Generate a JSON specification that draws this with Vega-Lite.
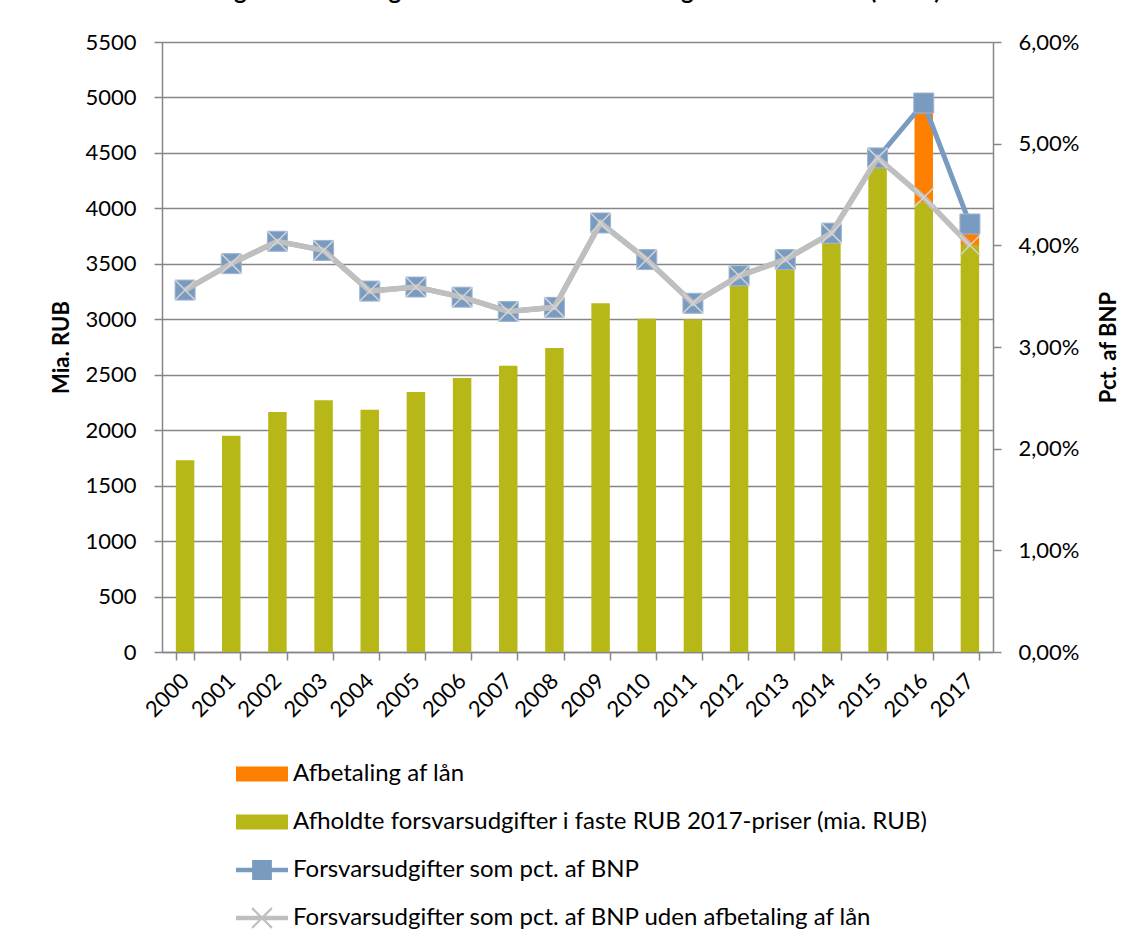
{
  "$schema": "https://vega.github.io/schema/vega-lite/v6.json",
  "autosize": "none",
  "width": 831,
  "height": 610,
  "padding": {"left": 162, "top": 42, "right": 152, "bottom": 293},
  "background": "white",
  "title": {
    "text": "Figur 1: Udviklingen i de russiske forsvarsudgifter 2000-2017 (SIPRI)",
    "font": "Lato",
    "fontSize": 24,
    "fontWeight": "bold",
    "color": "black",
    "anchor": "middle",
    "baseline": "bottom",
    "offset": 14,
    "dy": 11
  },
  "config": {
    "view": {"stroke": null},
    "font": "Lato",
    "legend": {
      "orient": "none",
      "legendX": 74,
      "legendY": 706,
      "padding": 0,
      "title": null,
      "labelFont": "Lato",
      "labelFontSize": 24,
      "labelColor": "black",
      "labelLimit": 1000,
      "labelOffset": 5,
      "symbolSize": 2704,
      "symbolStrokeWidth": 0,
      "symbolOpacity": 1,
      "rowPadding": 10,
      "direction": "vertical"
    }
  },
  "data": {
    "values": [
      {"aar": "2000", "serie": "Afholdte forsvarsudgifter i faste RUB 2017-priser (mia. RUB)", "vaerdi": 1730},
      {"aar": "2001", "serie": "Afholdte forsvarsudgifter i faste RUB 2017-priser (mia. RUB)", "vaerdi": 1950},
      {"aar": "2002", "serie": "Afholdte forsvarsudgifter i faste RUB 2017-priser (mia. RUB)", "vaerdi": 2165},
      {"aar": "2003", "serie": "Afholdte forsvarsudgifter i faste RUB 2017-priser (mia. RUB)", "vaerdi": 2270},
      {"aar": "2004", "serie": "Afholdte forsvarsudgifter i faste RUB 2017-priser (mia. RUB)", "vaerdi": 2185},
      {"aar": "2005", "serie": "Afholdte forsvarsudgifter i faste RUB 2017-priser (mia. RUB)", "vaerdi": 2345},
      {"aar": "2006", "serie": "Afholdte forsvarsudgifter i faste RUB 2017-priser (mia. RUB)", "vaerdi": 2470},
      {"aar": "2007", "serie": "Afholdte forsvarsudgifter i faste RUB 2017-priser (mia. RUB)", "vaerdi": 2580},
      {"aar": "2008", "serie": "Afholdte forsvarsudgifter i faste RUB 2017-priser (mia. RUB)", "vaerdi": 2740},
      {"aar": "2009", "serie": "Afholdte forsvarsudgifter i faste RUB 2017-priser (mia. RUB)", "vaerdi": 3145},
      {"aar": "2010", "serie": "Afholdte forsvarsudgifter i faste RUB 2017-priser (mia. RUB)", "vaerdi": 3005},
      {"aar": "2011", "serie": "Afholdte forsvarsudgifter i faste RUB 2017-priser (mia. RUB)", "vaerdi": 3000},
      {"aar": "2012", "serie": "Afholdte forsvarsudgifter i faste RUB 2017-priser (mia. RUB)", "vaerdi": 3300},
      {"aar": "2013", "serie": "Afholdte forsvarsudgifter i faste RUB 2017-priser (mia. RUB)", "vaerdi": 3450},
      {"aar": "2014", "serie": "Afholdte forsvarsudgifter i faste RUB 2017-priser (mia. RUB)", "vaerdi": 3685},
      {"aar": "2015", "serie": "Afholdte forsvarsudgifter i faste RUB 2017-priser (mia. RUB)", "vaerdi": 4365},
      {"aar": "2016", "serie": "Afholdte forsvarsudgifter i faste RUB 2017-priser (mia. RUB)", "vaerdi": 4050},
      {"aar": "2017", "serie": "Afholdte forsvarsudgifter i faste RUB 2017-priser (mia. RUB)", "vaerdi": 3670},
      {"aar": "2016", "serie": "Afbetaling af lån", "vaerdi": 840},
      {"aar": "2017", "serie": "Afbetaling af lån", "vaerdi": 190},
      {"aar": "2000", "serie": "Forsvarsudgifter som pct. af BNP", "vaerdi": 3.56},
      {"aar": "2001", "serie": "Forsvarsudgifter som pct. af BNP", "vaerdi": 3.82},
      {"aar": "2002", "serie": "Forsvarsudgifter som pct. af BNP", "vaerdi": 4.04},
      {"aar": "2003", "serie": "Forsvarsudgifter som pct. af BNP", "vaerdi": 3.95},
      {"aar": "2004", "serie": "Forsvarsudgifter som pct. af BNP", "vaerdi": 3.55},
      {"aar": "2005", "serie": "Forsvarsudgifter som pct. af BNP", "vaerdi": 3.59},
      {"aar": "2006", "serie": "Forsvarsudgifter som pct. af BNP", "vaerdi": 3.49},
      {"aar": "2007", "serie": "Forsvarsudgifter som pct. af BNP", "vaerdi": 3.35},
      {"aar": "2008", "serie": "Forsvarsudgifter som pct. af BNP", "vaerdi": 3.39},
      {"aar": "2009", "serie": "Forsvarsudgifter som pct. af BNP", "vaerdi": 4.22},
      {"aar": "2010", "serie": "Forsvarsudgifter som pct. af BNP", "vaerdi": 3.86},
      {"aar": "2011", "serie": "Forsvarsudgifter som pct. af BNP", "vaerdi": 3.43},
      {"aar": "2012", "serie": "Forsvarsudgifter som pct. af BNP", "vaerdi": 3.70},
      {"aar": "2013", "serie": "Forsvarsudgifter som pct. af BNP", "vaerdi": 3.86},
      {"aar": "2014", "serie": "Forsvarsudgifter som pct. af BNP", "vaerdi": 4.12},
      {"aar": "2015", "serie": "Forsvarsudgifter som pct. af BNP", "vaerdi": 4.86},
      {"aar": "2016", "serie": "Forsvarsudgifter som pct. af BNP", "vaerdi": 5.40},
      {"aar": "2017", "serie": "Forsvarsudgifter som pct. af BNP", "vaerdi": 4.21},
      {"aar": "2000", "serie": "Forsvarsudgifter som pct. af BNP uden afbetaling af lån", "vaerdi": 3.56},
      {"aar": "2001", "serie": "Forsvarsudgifter som pct. af BNP uden afbetaling af lån", "vaerdi": 3.82},
      {"aar": "2002", "serie": "Forsvarsudgifter som pct. af BNP uden afbetaling af lån", "vaerdi": 4.04},
      {"aar": "2003", "serie": "Forsvarsudgifter som pct. af BNP uden afbetaling af lån", "vaerdi": 3.95},
      {"aar": "2004", "serie": "Forsvarsudgifter som pct. af BNP uden afbetaling af lån", "vaerdi": 3.55},
      {"aar": "2005", "serie": "Forsvarsudgifter som pct. af BNP uden afbetaling af lån", "vaerdi": 3.59},
      {"aar": "2006", "serie": "Forsvarsudgifter som pct. af BNP uden afbetaling af lån", "vaerdi": 3.49},
      {"aar": "2007", "serie": "Forsvarsudgifter som pct. af BNP uden afbetaling af lån", "vaerdi": 3.35},
      {"aar": "2008", "serie": "Forsvarsudgifter som pct. af BNP uden afbetaling af lån", "vaerdi": 3.39},
      {"aar": "2009", "serie": "Forsvarsudgifter som pct. af BNP uden afbetaling af lån", "vaerdi": 4.22},
      {"aar": "2010", "serie": "Forsvarsudgifter som pct. af BNP uden afbetaling af lån", "vaerdi": 3.86},
      {"aar": "2011", "serie": "Forsvarsudgifter som pct. af BNP uden afbetaling af lån", "vaerdi": 3.43},
      {"aar": "2012", "serie": "Forsvarsudgifter som pct. af BNP uden afbetaling af lån", "vaerdi": 3.70},
      {"aar": "2013", "serie": "Forsvarsudgifter som pct. af BNP uden afbetaling af lån", "vaerdi": 3.86},
      {"aar": "2014", "serie": "Forsvarsudgifter som pct. af BNP uden afbetaling af lån", "vaerdi": 4.12},
      {"aar": "2015", "serie": "Forsvarsudgifter som pct. af BNP uden afbetaling af lån", "vaerdi": 4.86},
      {"aar": "2016", "serie": "Forsvarsudgifter som pct. af BNP uden afbetaling af lån", "vaerdi": 4.47},
      {"aar": "2017", "serie": "Forsvarsudgifter som pct. af BNP uden afbetaling af lån", "vaerdi": 4.00}
    ]
  },
  "encoding": {
    "x": {
      "field": "aar",
      "type": "ordinal",
      "scale": {"paddingInner": 0.6, "paddingOuter": 0.3},
      "axis": {
        "title": null,
        "labelAngle": -45,
        "labelAlign": "right",
        "labelBaseline": "middle",
        "labelFont": "Lato",
        "labelFontSize": 22,
        "labelColor": "black",
        "labelPadding": 17,
        "tickBand": "extent",
        "tickSize": 8,
        "tickColor": "#868686",
        "tickWidth": 1.5,
        "domainColor": "#868686",
        "domainWidth": 1.5,
        "grid": false
      }
    }
  },
  "layer": [
    {
      "transform": [{"filter": "datum.serie == 'Afbetaling af lån' || datum.serie == 'Afholdte forsvarsudgifter i faste RUB 2017-priser (mia. RUB)'"}],
      "mark": {"type": "bar"},
      "encoding": {
        "y": {
          "field": "vaerdi",
          "type": "quantitative",
          "stack": "zero",
          "scale": {"domain": [0, 5500], "nice": false},
          "axis": {
            "title": "Mia. RUB",
            "titleFont": "Lato",
            "titleFontSize": 22,
            "titleFontWeight": "bold",
            "titleColor": "black",
            "titlePadding": 11,
            "values": [0, 500, 1000, 1500, 2000, 2500, 3000, 3500, 4000, 4500, 5000, 5500],
            "format": "d",
            "labelFont": "Lato",
            "labelFontSize": 22,
            "labelColor": "black",
            "labelPadding": 18,
            "tickSize": 8,
            "tickColor": "#868686",
            "tickWidth": 1.5,
            "domainColor": "#868686",
            "domainWidth": 1.5,
            "grid": true,
            "gridColor": "#868686",
            "gridWidth": 1.5
          }
        },
        "color": {
          "field": "serie",
          "type": "nominal",
          "scale": {
            "domain": ["Afbetaling af lån", "Afholdte forsvarsudgifter i faste RUB 2017-priser (mia. RUB)", "Forsvarsudgifter som pct. af BNP", "Forsvarsudgifter som pct. af BNP uden afbetaling af lån"],
            "range": ["#FF7F00", "#B7B718", "#7A9BC0", "#BFBFBF"]
          }
        },
        "order": {"field": "serie", "sort": "descending"}
      }
    },
    {
      "encoding": {
        "y": {
          "field": "vaerdi",
          "type": "quantitative",
          "scale": {"domain": [0, 6], "nice": false},
          "axis": {
            "orient": "right",
            "title": "Pct. af BNP",
            "titleFont": "Lato",
            "titleFontSize": 22,
            "titleFontWeight": "bold",
            "titleColor": "black",
            "titleAngle": 270,
            "titlePadding": 42,
            "values": [0, 1, 2, 3, 4, 5, 6],
            "labelExpr": "replace(format(datum.value, '.2f'), '.', ',') + '%'",
            "labelFont": "Lato",
            "labelFontSize": 22,
            "labelColor": "black",
            "labelPadding": 17,
            "tickSize": 8,
            "tickColor": "#868686",
            "tickWidth": 1.5,
            "domainColor": "#868686",
            "domainWidth": 1.5,
            "grid": false
          }
        }
      },
      "layer": [
        {
          "transform": [{"filter": "datum.serie == 'Forsvarsudgifter som pct. af BNP'"}],
          "mark": {"type": "line", "color": "#7A9BC0", "strokeWidth": 5},
          "encoding": {}
        },
        {
          "transform": [{"filter": "datum.serie == 'Forsvarsudgifter som pct. af BNP'"}],
          "mark": {"type": "point", "shape": "square", "size": 400, "filled": true, "fill": "#7A9BC0", "stroke": "#9DB5D1", "strokeWidth": 1, "opacity": 1}
        },
        {
          "transform": [{"filter": "datum.serie == 'Forsvarsudgifter som pct. af BNP uden afbetaling af lån'"}],
          "mark": {"type": "line", "color": "#BFBFBF", "strokeWidth": 5.5},
          "encoding": {}
        },
        {
          "transform": [{"filter": "datum.serie == 'Forsvarsudgifter som pct. af BNP uden afbetaling af lån'"}],
          "mark": {"type": "point", "shape": "M-1,-1L1,1M-1,1L1,-1", "size": 400, "filled": false, "stroke": "#D4D4D4", "strokeWidth": 1.5, "opacity": 1}
        },
        {
          "transform": [{"filter": "datum.vaerdi < 0"}],
          "mark": {"type": "point", "filled": true},
          "encoding": {
            "color": {
              "field": "serie",
              "type": "nominal",
              "scale": {
                "domain": ["Afbetaling af lån", "Afholdte forsvarsudgifter i faste RUB 2017-priser (mia. RUB)", "Forsvarsudgifter som pct. af BNP", "Forsvarsudgifter som pct. af BNP uden afbetaling af lån"],
                "range": ["#FF7F00", "#B7B718", "#7A9BC0", "#BFBFBF"]
              }
            },
            "shape": {
              "field": "serie",
              "type": "nominal",
              "scale": {
                "domain": ["Afbetaling af lån", "Afholdte forsvarsudgifter i faste RUB 2017-priser (mia. RUB)", "Forsvarsudgifter som pct. af BNP", "Forsvarsudgifter som pct. af BNP uden afbetaling af lån"],
                "range": [
                  "M-1,-0.29H1V0.29H-1Z",
                  "M-1,-0.29H1V0.29H-1Z",
                  "M-1,-0.09H1V0.09H-1Z M-0.38,-0.38H0.38V0.38H-0.38Z",
                  "M-1,-0.09H1V0.09H-1Z M-0.35,-0.41L0.41,0.35L0.35,0.41L-0.41,-0.35Z M0.35,-0.41L0.41,-0.35L-0.35,0.41L-0.41,0.35Z"
                ]
              }
            }
          }
        }
      ]
    }
  ],
  "resolve": {"scale": {"y": "independent"}}
}
